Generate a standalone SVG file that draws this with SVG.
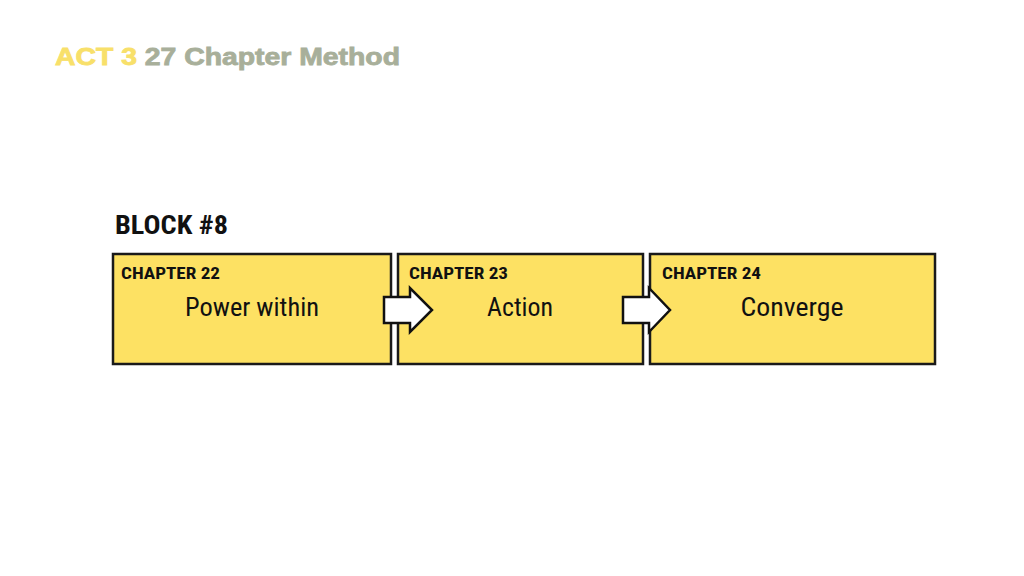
<svg xmlns="http://www.w3.org/2000/svg" width="1024" height="576" viewBox="0 0 1024 576">
<style>
.box{fill:#FDE163;stroke:#1a1a1a;stroke-width:2.5}
.n{font-family:"Liberation Sans Narrow","Roboto Condensed","Liberation Sans",sans-serif;fill:#111}
.ch{font-size:16px;font-weight:bold}
.lb{font-size:26px;text-anchor:middle}
.arr{fill:#fff;stroke:#111;stroke-width:2.5;stroke-linejoin:miter}
</style>
<rect width="1024" height="576" fill="#fff"/>
<text x="55" y="65" font-family="'Liberation Sans',Arial,sans-serif" font-weight="900" font-size="23" fill="#A8AF9A" stroke="#A8AF9A" stroke-width="0.8" textLength="345" lengthAdjust="spacingAndGlyphs"><tspan fill="#F8E06A" stroke="#F8E06A">ACT 3</tspan> 27 Chapter Method</text>
<text x="115" y="234" class="n" font-size="25" font-weight="bold" textLength="113" lengthAdjust="spacingAndGlyphs">BLOCK #8</text>
<g id="ch22"><rect class="box" x="113" y="254" width="278" height="110"/><text class="n ch" x="121" y="279" textLength="99" lengthAdjust="spacingAndGlyphs">CHAPTER 22</text><text class="n lb" x="252" y="316" textLength="134" lengthAdjust="spacingAndGlyphs">Power within</text></g>
<g id="ch23"><rect class="box" x="398" y="254" width="245" height="110"/><text class="n ch" x="409" y="279" textLength="99" lengthAdjust="spacingAndGlyphs">CHAPTER 23</text><text class="n lb" x="520" y="316" textLength="66" lengthAdjust="spacingAndGlyphs">Action</text></g>
<g id="ch24"><rect class="box" x="650" y="254" width="285" height="110"/><text class="n ch" x="662" y="279" textLength="99" lengthAdjust="spacingAndGlyphs">CHAPTER 24</text><text class="n lb" x="792" y="316" textLength="103" lengthAdjust="spacingAndGlyphs">Converge</text></g>
<g id="connectors">
<path class="arr" d="M384,297 H410 V288 L432,310 L410,332 V323 H384 Z"/>
<path class="arr" d="M623,297 H649 V288 L670,310 L649,332 V323 H623 Z"/>
</g>
</svg>
